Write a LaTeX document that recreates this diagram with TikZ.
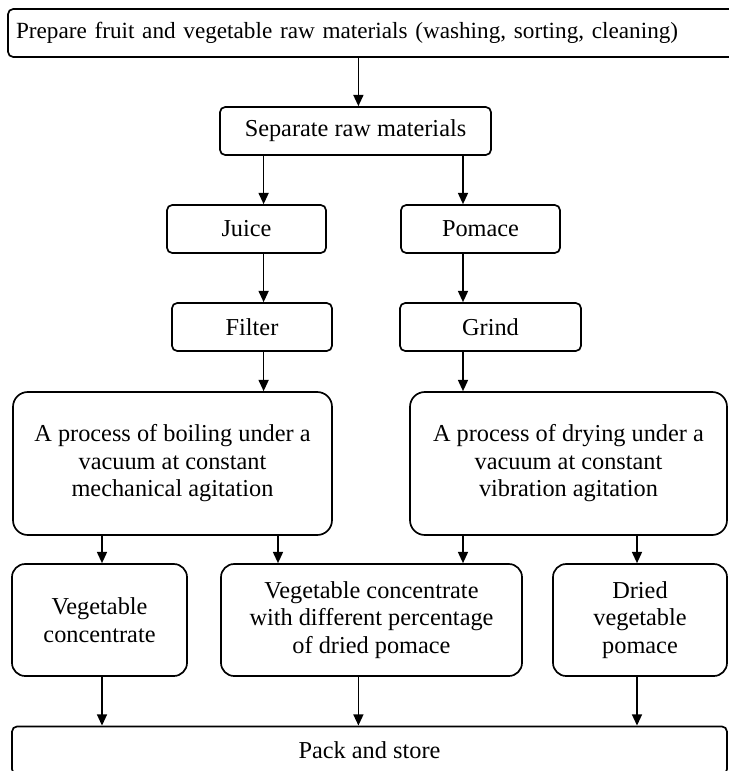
\documentclass[tikz,border=0pt]{standalone}
\usepackage{fontspec}
\setmainfont{Liberation Serif}
\usetikzlibrary{arrows.meta}

\begin{document}
\begin{tikzpicture}[
  font=\fontsize{17.3}{19.6}\selectfont,
  box/.style  = {draw, line width=1.2pt, rounded corners=1.3mm, inner sep=0pt,
                 align=center, minimum height=12mm},
  big/.style  = {box, rounded corners=3.7mm},
  prod/.style = {box, rounded corners=3.3mm, minimum height=28mm},
  ar/.style   = {-{Triangle[length=2.8mm, width=2.5mm]}, line width=1.05pt},
]
\useasboundingbox (0,0) rectangle (182mm,-192.75mm);

% columns the arrows run on
\coordinate (colM) at ( 89.6mm, 0);
\coordinate (colL) at ( 65.9mm, 0);
\coordinate (colR) at (115.75mm,0);
\coordinate (colA) at ( 25.5mm, 0);
\coordinate (colB) at ( 69.5mm, 0);
\coordinate (colD) at (159.25mm,0);

% ======================= preparation ===================================
\node[box, text width=178mm, align=left, inner xsep=2mm,
      font=\fontsize{16.5}{19}\selectfont] (prep) at (93mm,-8.25mm)
  {Prepare fruit and vegetable raw materials (washing, sorting, cleaning)};
\node[box, minimum width=67.75mm] (sep) at (88.875mm,-32.75mm) {Separate raw materials};
\draw[ar] (prep.south -| colM) -- (sep.north -| colM);

% ======================= two branches ==================================
\node[box, minimum width=39.75mm] (juice)  at ( 61.625mm,-57.25mm) {Juice};
\node[box, minimum width=39.75mm] (pomace) at (120.125mm,-57.25mm) {Pomace};
\node[box, minimum width=40mm]    (filter) at ( 63mm,    -81.75mm) {Filter};
\node[box, minimum width=45.25mm] (grind)  at (122.625mm,-81.75mm) {Grind};
\node[big, minimum width=79.75mm, minimum height=35.75mm] (boil) at (43.125mm,-115.875mm)
  {A process of boiling under a\\ vacuum at constant\\ mechanical agitation};
\node[big, minimum width=79.25mm, minimum height=35.75mm] (dry) at (142.125mm,-115.875mm)
  {A process of drying under a\\ vacuum at constant\\ vibration agitation};

\draw[ar] (sep.south -| colL)    -- (juice.north -| colL);
\draw[ar] (sep.south -| colR)    -- (pomace.north -| colR);
\draw[ar] (juice.south -| colL)  -- (filter.north -| colL);
\draw[ar] (pomace.south -| colR) -- (grind.north -| colR);
\draw[ar] (filter.south -| colL) -- (boil.north -| colL);
\draw[ar] (grind.south -| colR)  -- (dry.north -| colR);

% ======================= products ======================================
\node[prod, minimum width=43.75mm] (conc)  at ( 24.875mm,-155mm) {Vegetable\\ concentrate};
\node[prod, minimum width=75.25mm] (mix)   at ( 92.875mm,-155mm)
  {Vegetable concentrate\\ with different percentage\\ of dried pomace};
\node[prod, minimum width=43.5mm]  (dried) at (160mm,    -155mm) {Dried\\ vegetable\\ pomace};

\draw[ar] (boil.south -| colA) -- (conc.north -| colA);
\draw[ar] (boil.south -| colB) -- (mix.north -| colB);
\draw[ar] (dry.south -| colR)  -- (mix.north -| colR);
\draw[ar] (dry.south -| colD)  -- (dried.north -| colD);

% ======================= storage =======================================
\node[box, minimum width=178.75mm] (pack) at (92.375mm,-187.6mm) {Pack and store};
\draw[ar] (conc.south -| colA)  -- (pack.north -| colA);
\draw[ar] (mix.south -| colM)   -- (pack.north -| colM);
\draw[ar] (dried.south -| colD) -- (pack.north -| colD);

\end{tikzpicture}
\end{document}
